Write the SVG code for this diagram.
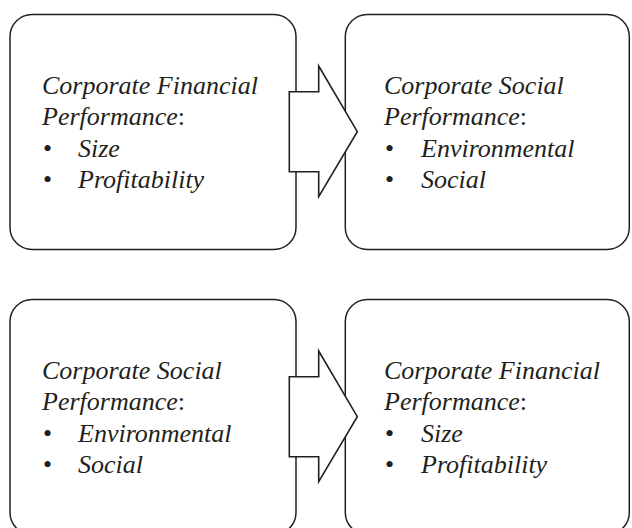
<svg xmlns="http://www.w3.org/2000/svg" width="632" height="528" viewBox="0 0 632 528">
<style>
.box{fill:#fff;stroke:#231f20;stroke-width:1.5}
.arrow{fill:#fff;stroke:#231f20;stroke-width:1.6;stroke-linejoin:miter}
text{font-family:"Liberation Serif","Times New Roman",serif;font-size:26px;font-style:italic;fill:#231f20}
.b{font-style:normal}
</style>
<rect width="632" height="528" fill="#fff"/>
<g id="cfp-top">
<rect class="box" x="10" y="14.5" width="286" height="235" rx="22" ry="22"/>
<text x="42" y="94">Corporate Financial</text>
<text x="42" y="125"><tspan>Performance</tspan><tspan class="b">:</tspan></text>
<text class="b" x="43" y="157">•</text><text x="78" y="157">Size</text>
<text class="b" x="43" y="188">•</text><text x="78" y="188">Profitability</text>
</g>
<g id="csp-top">
<rect class="box" x="345.3" y="14.5" width="284" height="235" rx="22" ry="22"/>
<text x="384" y="94">Corporate Social</text>
<text x="384" y="125"><tspan>Performance</tspan><tspan class="b">:</tspan></text>
<text class="b" x="385" y="157">•</text><text x="421" y="157">Environmental</text>
<text class="b" x="385" y="188">•</text><text x="421" y="188">Social</text>
</g>
<g id="csp-bottom">
<rect class="box" x="10" y="299.5" width="286" height="235" rx="22" ry="22"/>
<text x="42" y="379">Corporate Social</text>
<text x="42" y="410"><tspan>Performance</tspan><tspan class="b">:</tspan></text>
<text class="b" x="43" y="442">•</text><text x="78" y="442">Environmental</text>
<text class="b" x="43" y="473">•</text><text x="78" y="473">Social</text>
</g>
<g id="cfp-bottom">
<rect class="box" x="345.3" y="299.5" width="284" height="235" rx="22" ry="22"/>
<text x="384" y="379">Corporate Financial</text>
<text x="384" y="410"><tspan>Performance</tspan><tspan class="b">:</tspan></text>
<text class="b" x="385" y="442">•</text><text x="421" y="442">Size</text>
<text class="b" x="385" y="473">•</text><text x="421" y="473">Profitability</text>
</g>
<g id="connectors">
<polygon class="arrow" points="289.3,91.7 318.7,91.7 318.7,66 357.3,131.7 318.7,196.7 318.7,171.7 289.3,171.7"/>
<polygon class="arrow" points="289.3,376.7 318.7,376.7 318.7,351 357.3,416.7 318.7,481.7 318.7,456.7 289.3,456.7"/>
</g>
</svg>
